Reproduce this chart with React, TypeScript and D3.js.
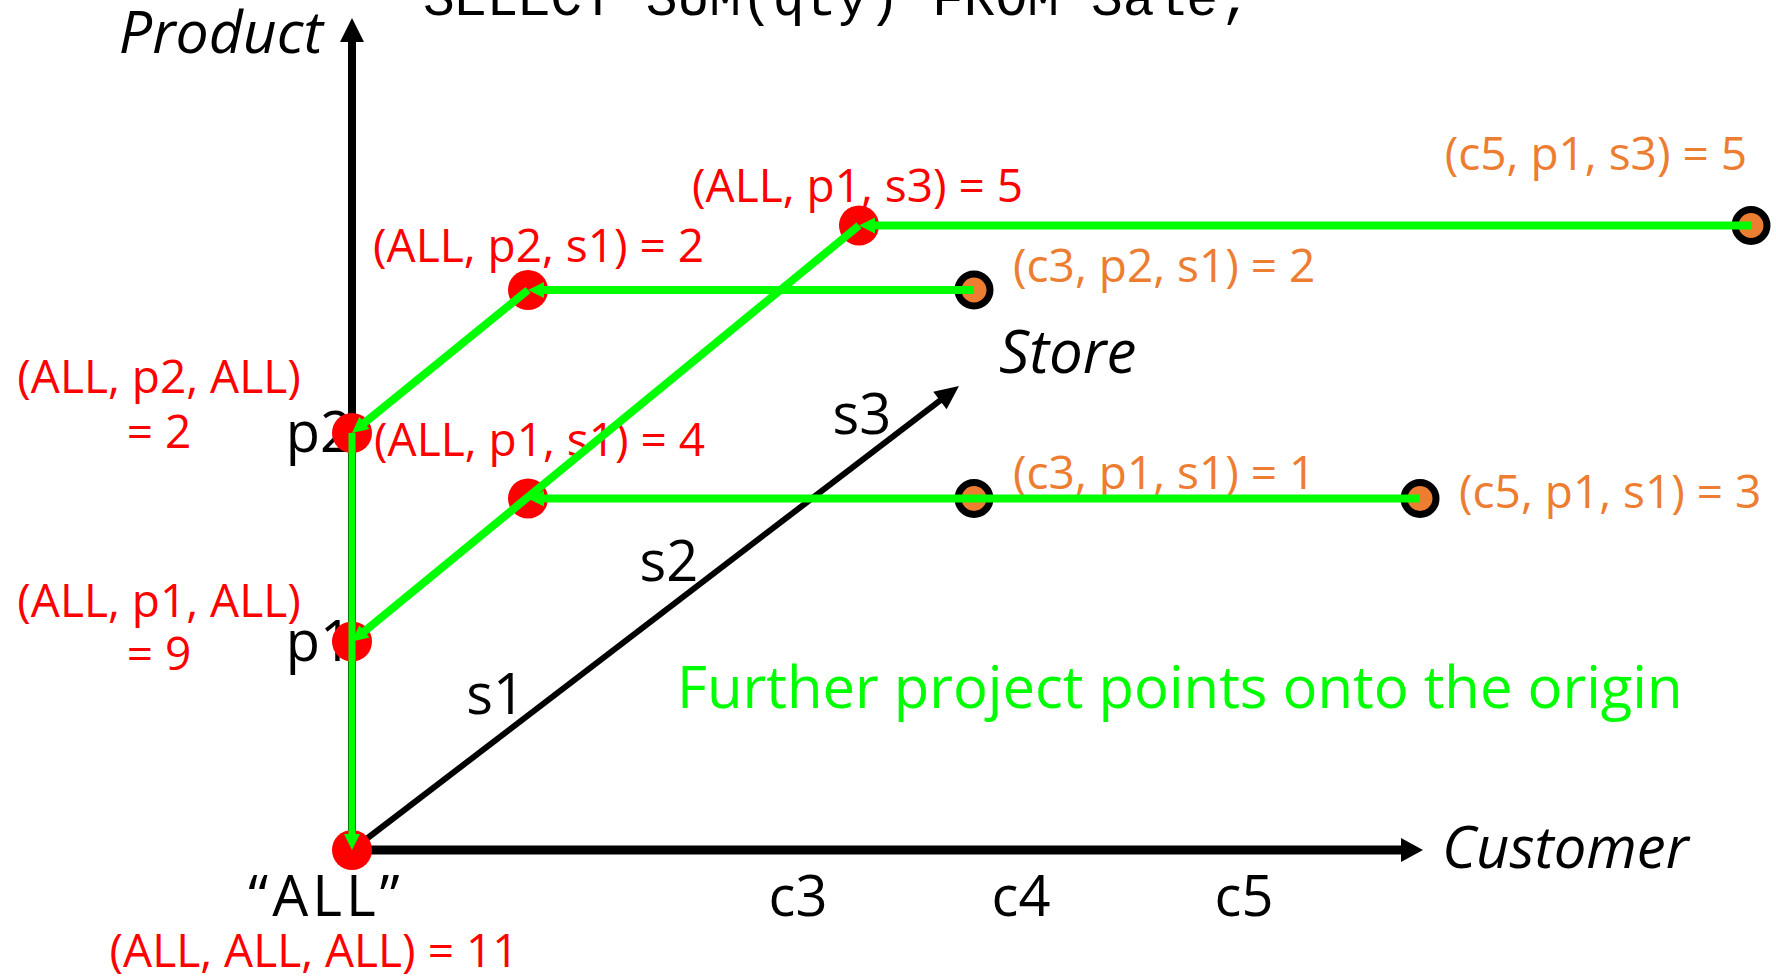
import * as d3 from "d3";

// cube slots along each dimension ("ALL" is the origin)
const customerSlots = ["ALL", "c2", "c3", "c4", "c5"];
const customerTicks = ["c3", "c4", "c5"];
const productSlots = ["ALL", "p1", "p2"];
const productTicks = ["p1", "p2"];
const storeSlots = ["ALL", "s1", "s2", "s3"];
const storeTicks = ["s1", "s2", "s3"];

type Cell = { c: string; p: string; s: string; qty: number };

// base cells of Sale (orange)
const baseCells: Cell[] = [
  { c: "c5", p: "p1", s: "s3", qty: 5 },
  { c: "c3", p: "p2", s: "s1", qty: 2 },
  { c: "c3", p: "p1", s: "s1", qty: 1 },
  { c: "c5", p: "p1", s: "s1", qty: 3 },
];
// projected onto customer = ALL
const customerRollup: Cell[] = [
  { c: "ALL", p: "p1", s: "s3", qty: 5 },
  { c: "ALL", p: "p2", s: "s1", qty: 2 },
  { c: "ALL", p: "p1", s: "s1", qty: 4 },
];
// projected onto store = ALL
const storeRollup: Cell[] = [
  { c: "ALL", p: "p2", s: "ALL", qty: 2 },
  { c: "ALL", p: "p1", s: "ALL", qty: 9 },
];
const grandTotal: Cell[] = [{ c: "ALL", p: "ALL", s: "ALL", qty: 11 }];

// projection arrows [from, to]
const projections: [string, string][] = [
  ["c3|p2|s1", "ALL|p2|s1"],
  ["c5|p1|s3", "ALL|p1|s3"],
  ["c5|p1|s1", "ALL|p1|s1"],
  ["ALL|p2|s1", "ALL|p2|ALL"],
  ["ALL|p1|s3", "ALL|p1|ALL"],
  ["ALL|p2|ALL", "ALL|ALL|ALL"],
];

const title = "SELECT SUM(qty) FROM Sale;";
const note = "Further project points onto the origin";

const W = 1776;
const H = 976;
const RED = "#ff0000";
const ORANGE = "#ed7d31";
const GREEN = "#00ff00";
const FONT = "'Open Sans', 'Noto Sans', sans-serif";

// label placement relative to each point
const labelLayout: Record<string, { dx: number; dy: number; anchor: string; split?: number }> = {
  "c5|p1|s3": { dx: -4, dy: -56, anchor: "end" },
  "c3|p2|s1": { dx: 39, dy: -8, anchor: "start" },
  "c3|p1|s1": { dx: 39, dy: -10, anchor: "start" },
  "c5|p1|s1": { dx: 39, dy: 9, anchor: "start" },
  "ALL|p1|s3": { dx: -167, dy: -24, anchor: "start" },
  "ALL|p2|s1": { dx: -155, dy: -28, anchor: "start" },
  "ALL|p1|s1": { dx: -154, dy: -43, anchor: "start" },
  "ALL|p2|ALL": { dx: -193, dy: -40, anchor: "middle", split: 55 },
  "ALL|p1|ALL": { dx: -193, dy: -25, anchor: "middle", split: 53 },
  "ALL|ALL|ALL": { dx: -38, dy: 117, anchor: "middle" },
};

const key = (d: Cell) => `${d.c}|${d.p}|${d.s}`;

function Arrow(props: {
  x1: number; y1: number; x2: number; y2: number;
  color: string; width: number; head: number; half: number;
}) {
  const { x1, y1, x2, y2, color, width, head, half } = props;
  const L = Math.hypot(x2 - x1, y2 - y1);
  const ux = (x2 - x1) / L;
  const uy = (y2 - y1) / L;
  const bx = x2 - ux * head;
  const by = y2 - uy * head;
  const pts = [
    [x2, y2],
    [bx - uy * half, by + ux * half],
    [bx + uy * half, by - ux * half],
  ];
  return (
    <g>
      <line x1={x1} y1={y1} x2={bx + ux * 2} y2={by + uy * 2} stroke={color} strokeWidth={width} />
      <polygon points={pts.map((p) => p.join(",")).join(" ")} fill={color} />
    </g>
  );
}

export default function App() {
  const xScale = d3.scalePoint<string>().domain(customerSlots).range([352, 352 + 4 * 223]);
  const yScale = d3.scalePoint<string>().domain(productSlots).range([850, 433]);
  const storeIdx = (s: string) => storeSlots.indexOf(s);
  const storeDX = d3.scaleLinear().domain([0, 1, 3]).range([0, 176, 507]);
  const storeDY = d3.scaleLinear().domain([0, 1, 3]).range([0, -143, -416]);
  // tick labels along the drawn store axis
  const storeAlong = d3.scaleLinear().domain([1, 2, 3]).range([206, 424, 667]);

  const pos = (d: { c: string; p: string; s: string }) => ({
    x: (xScale(d.c) ?? 0) + storeDX(storeIdx(d.s)),
    y: (yScale(d.p) ?? 0) + storeDY(storeIdx(d.s)),
  });

  const ox = xScale("ALL") ?? 0;
  const oy = yScale("ALL") ?? 0;
  const storeEnd = { x: ox + 607, y: oy - 464 };
  const sLen = Math.hypot(storeEnd.x - ox, storeEnd.y - oy);
  const su = { x: (storeEnd.x - ox) / sLen, y: (storeEnd.y - oy) / sLen };
  const sn = { x: su.y, y: -su.x }; // up-left normal

  const allCells = [...baseCells, ...customerRollup, ...storeRollup, ...grandTotal];
  const byKey = new Map(allCells.map((d) => [key(d), d]));

  const labelFor = (d: Cell, color: string) => {
    const p = pos(d);
    const l = labelLayout[key(d)];
    const head = `(${d.c}, ${d.p}, ${d.s})`;
    const tail = `= ${d.qty}`;
    return (
      <text
        key={`lab-${key(d)}`}
        x={p.x + l.dx}
        y={p.y + l.dy}
        textAnchor={l.anchor}
        fill={color}
        fontSize={46}
        fontFamily={FONT}
      >
        {l.split ? (
          <>
            <tspan x={p.x + l.dx}>{head}</tspan>
            <tspan x={p.x + l.dx} dy={l.split}>{tail}</tspan>
          </>
        ) : (
          `${head} ${tail}`
        )}
      </text>
    );
  };

  return (
    <svg
      width={W}
      height={H}
      style={{ position: "fixed", left: 0, top: 0, background: "#fff" }}
    >
      {/* axes */}
      <Arrow x1={ox} y1={oy} x2={ox} y2={18} color="#000" width={8} head={24} half={12} />
      <Arrow x1={ox} y1={oy} x2={1423} y2={oy} color="#000" width={9} head={22} half={12} />
      <Arrow x1={ox} y1={oy} x2={storeEnd.x} y2={storeEnd.y} color="#000" width={6} head={24} half={11} />

      <text x={423} y={15} fontFamily="'Liberation Mono', 'Courier New', monospace" fontSize={53} fill="#000">
        {title}
      </text>
      <text x={323} y={53} textAnchor="end" fontFamily={FONT} fontStyle="italic" fontSize={59} fill="#000">Product</text>
      <text x={999} y={373} fontFamily={FONT} fontStyle="italic" fontSize={60} fill="#000">Store</text>
      <text x={1442} y={868} fontFamily={FONT} fontStyle="italic" fontSize={58} fill="#000">Customer</text>

      {/* tick labels */}
      {customerTicks.map((c) => (
        <text key={c} x={xScale(c)} y={916} textAnchor="middle" fontFamily={FONT} fontSize={56} fill="#000">
          {c}
        </text>
      ))}
      {productTicks.map((p) => (
        <text key={p} x={ox} y={(yScale(p) ?? 0) + 19} textAnchor="end" fontFamily={FONT} fontSize={56} fill="#000">
          {p}
        </text>
      ))}
      {storeTicks.map((s, i) => {
        const a = storeAlong(i + 1);
        return (
          <text
            key={s}
            x={ox + su.x * a + sn.x * 33}
            y={oy + su.y * a + sn.y * 33 + 15}
            textAnchor="middle"
            fontFamily={FONT}
            fontSize={56}
            fill="#000"
          >
            {s}
          </text>
        );
      })}
      <text x={ox - 26} y={916} textAnchor="middle" fontFamily={FONT} fontSize={57} letterSpacing={4} fill="#000">
        “ALL”
      </text>

      <text x={677} y={708} fontFamily={FONT} fontSize={58} fill={GREEN}>{note}</text>

      {/* value labels */}
      {baseCells.map((d) => labelFor(d, ORANGE))}
      {[...customerRollup, ...storeRollup, ...grandTotal].map((d) => labelFor(d, RED))}

      {/* points */}
      {[...customerRollup, ...storeRollup, ...grandTotal].map((d) => {
        const p = pos(d);
        return <circle key={`pt-${key(d)}`} cx={p.x} cy={p.y} r={20} fill={RED} />;
      })}
      {baseCells.map((d) => {
        const p = pos(d);
        return (
          <circle key={`pt-${key(d)}`} cx={p.x} cy={p.y} r={16} fill={ORANGE} stroke="#000" strokeWidth={7} />
        );
      })}

      {/* projection arrows */}
      {projections.map(([from, to]) => {
        const a = pos(byKey.get(from)!);
        const b = pos(byKey.get(to)!);
        const vertical = a.x === b.x;
        return (
          <Arrow
            key={`${from}->${to}`}
            x1={a.x}
            y1={a.y}
            x2={b.x}
            y2={b.y}
            color={GREEN}
            width={vertical ? 7 : 8}
            head={16}
            half={8}
          />
        );
      })}
    </svg>
  );
}
